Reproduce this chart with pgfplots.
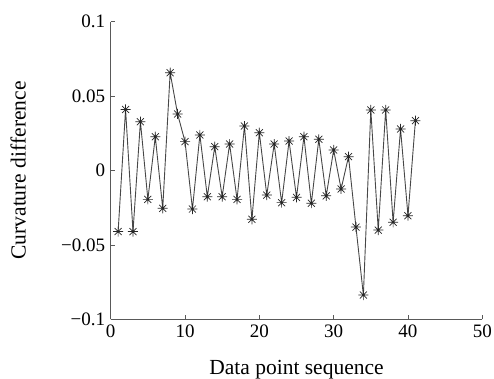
\documentclass[border=0pt]{standalone}
\usepackage{fontspec}
\setmainfont{Liberation Serif}
\usepackage{pgfplots}
\pgfplotsset{compat=1.18}
\pgfdeclareplotmark{ast8}{%
  \pgfpathmoveto{\pgfqpoint{-\pgfplotmarksize}{0pt}}\pgfpathlineto{\pgfqpoint{\pgfplotmarksize}{0pt}}%
  \pgfpathmoveto{\pgfqpoint{0pt}{-\pgfplotmarksize}}\pgfpathlineto{\pgfqpoint{0pt}{\pgfplotmarksize}}%
  \pgfpathmoveto{\pgfqpoint{-0.7\pgfplotmarksize}{-0.7\pgfplotmarksize}}\pgfpathlineto{\pgfqpoint{0.7\pgfplotmarksize}{0.7\pgfplotmarksize}}%
  \pgfpathmoveto{\pgfqpoint{-0.7\pgfplotmarksize}{0.7\pgfplotmarksize}}\pgfpathlineto{\pgfqpoint{0.7\pgfplotmarksize}{-0.7\pgfplotmarksize}}%
  \pgfusepathqstroke}
\begin{document}
\begin{tikzpicture}
\begin{axis}[
  scale only axis,
  width=371.6pt, height=297.6pt,
  xmin=0, xmax=50, ymin=-0.1, ymax=0.1,
  axis lines*=left,
  axis line style={black!65, line width=0.8pt, -},
  tick align=inside,
  major tick length=4.5pt,
  tick style={black!65, line width=0.8pt},
  xtick={0,10,20,30,40,50},
  xticklabels={0,10,20,30,40,50},
  ytick={-0.1,-0.05,0,0.05,0.1},
  yticklabels={−0.1,−0.05,0,0.05,0.1},
  xticklabel style={font=\fontsize{19}{22}\selectfont, yshift=-2pt},
  yticklabel style={font=\fontsize{19}{22}\selectfont, xshift=-2pt},
  xlabel={Data point sequence},
  ylabel={Curvature difference},
  every axis x label/.style={at={(axis description cs:0.5,-0.168)}, anchor=center, font=\fontsize{21.5}{24}\selectfont},
  every axis y label/.style={at={(axis description cs:-0.249,0.5)}, anchor=center, rotate=90, font=\fontsize{21.5}{24}\selectfont},
  clip=false,
]
\addplot[color=black!72, line width=0.9pt, mark=ast8, mark size=5pt,
  mark options={black!85, line width=0.7pt}] coordinates {
(1,-0.041) (2,0.041) (3,-0.041) (4,0.0328) (5,-0.0194) (6,0.0227) (7,-0.0254)
(8,0.0657) (9,0.038) (10,0.0194) (11,-0.0259) (12,0.0239) (13,-0.0176)
(14,0.016) (15,-0.0176) (16,0.0178) (17,-0.0194) (18,0.0299) (19,-0.0328)
(20,0.0254) (21,-0.0165) (22,0.0178) (23,-0.0216) (24,0.0198) (25,-0.018)
(26,0.0227) (27,-0.022) (28,0.021) (29,-0.017) (30,0.0138) (31,-0.0124)
(32,0.0093) (33,-0.038) (34,-0.0837) (35,0.0407) (36,-0.040) (37,0.0407)
(38,-0.0348) (39,0.0279) (40,-0.0304) (41,0.0335)
};
\end{axis}
\pgfresetboundingbox
\path (current axis.south west) ++(-110.7pt,-58.7pt) coordinate (bl);
\path (current axis.north east) ++(11.7pt,21.7pt) coordinate (tr);
\path[use as bounding box] (bl) rectangle (tr);
\end{tikzpicture}
\end{document}
